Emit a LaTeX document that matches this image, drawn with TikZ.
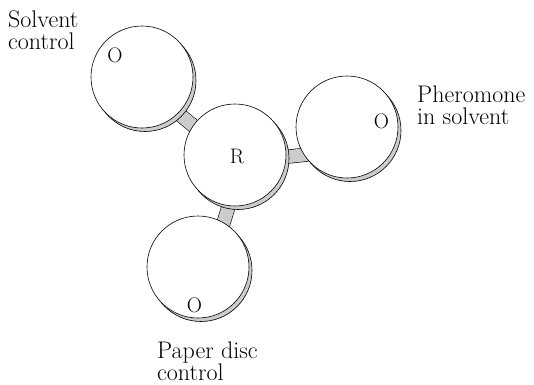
\documentclass[tikz,border=0pt]{standalone}
\usetikzlibrary{backgrounds}

\definecolor{shade}{gray}{0.8}

\tikzset{
  disc/.style={circle, draw, fill=white, minimum size=102pt, inner sep=0pt, line width=0.6pt},
  discshadow/.style={disc, fill=shade},
  tube/.style={draw=black, line width=0.6pt, double=shade, double distance=13pt,
               shorten <=-4pt, shorten >=-4pt},
  letter/.style={font=\fontsize{21}{21}\selectfont, inner sep=0pt},
  caption/.style={font=\fontsize{24}{22}\selectfont, align=left, anchor=north west, inner sep=0pt}
}

\begin{document}
\begin{tikzpicture}[x=1pt, y=-1pt]
\useasboundingbox (0,0) rectangle (534,384);
% shadows first, then the discs on top
\path
(145,80.5) node[discshadow] (Ss) {}
(238,158.5) node[discshadow] (Rs) {}
(350,130.5) node[discshadow] (Ps) {}
(201,270.5) node[discshadow] (Ds) {}
(142,77) node[disc] (S) {}
(235,155) node[disc] (R) {}
(347,127) node[disc] (P) {}
(198,267) node[disc] (D) {};
%
\path
(115,55.5) node[letter] (oS) {O}
(237,156.5) node[letter] (oR) {R}
(381.5,121.5) node[letter] (oP) {O}
(194.5,305) node[letter] (oD) {O};
% tubes between the chambers
\begin{scope}[on background layer]
\draw[tube] (S.-45) -- (R.145);
\draw[tube] (R.-2) -- (P.213);
\draw[tube] (R.-97) -- (D.60);
\end{scope}
%
\node[caption] (capS) at (8,10.5) {Solvent\\control};
\node[caption] (capP) at (417,85.5) {Pheromone\\in solvent};
\node[caption] (capD) at (157,341.5) {Paper disc\\control};
\end{tikzpicture}
\end{document}
